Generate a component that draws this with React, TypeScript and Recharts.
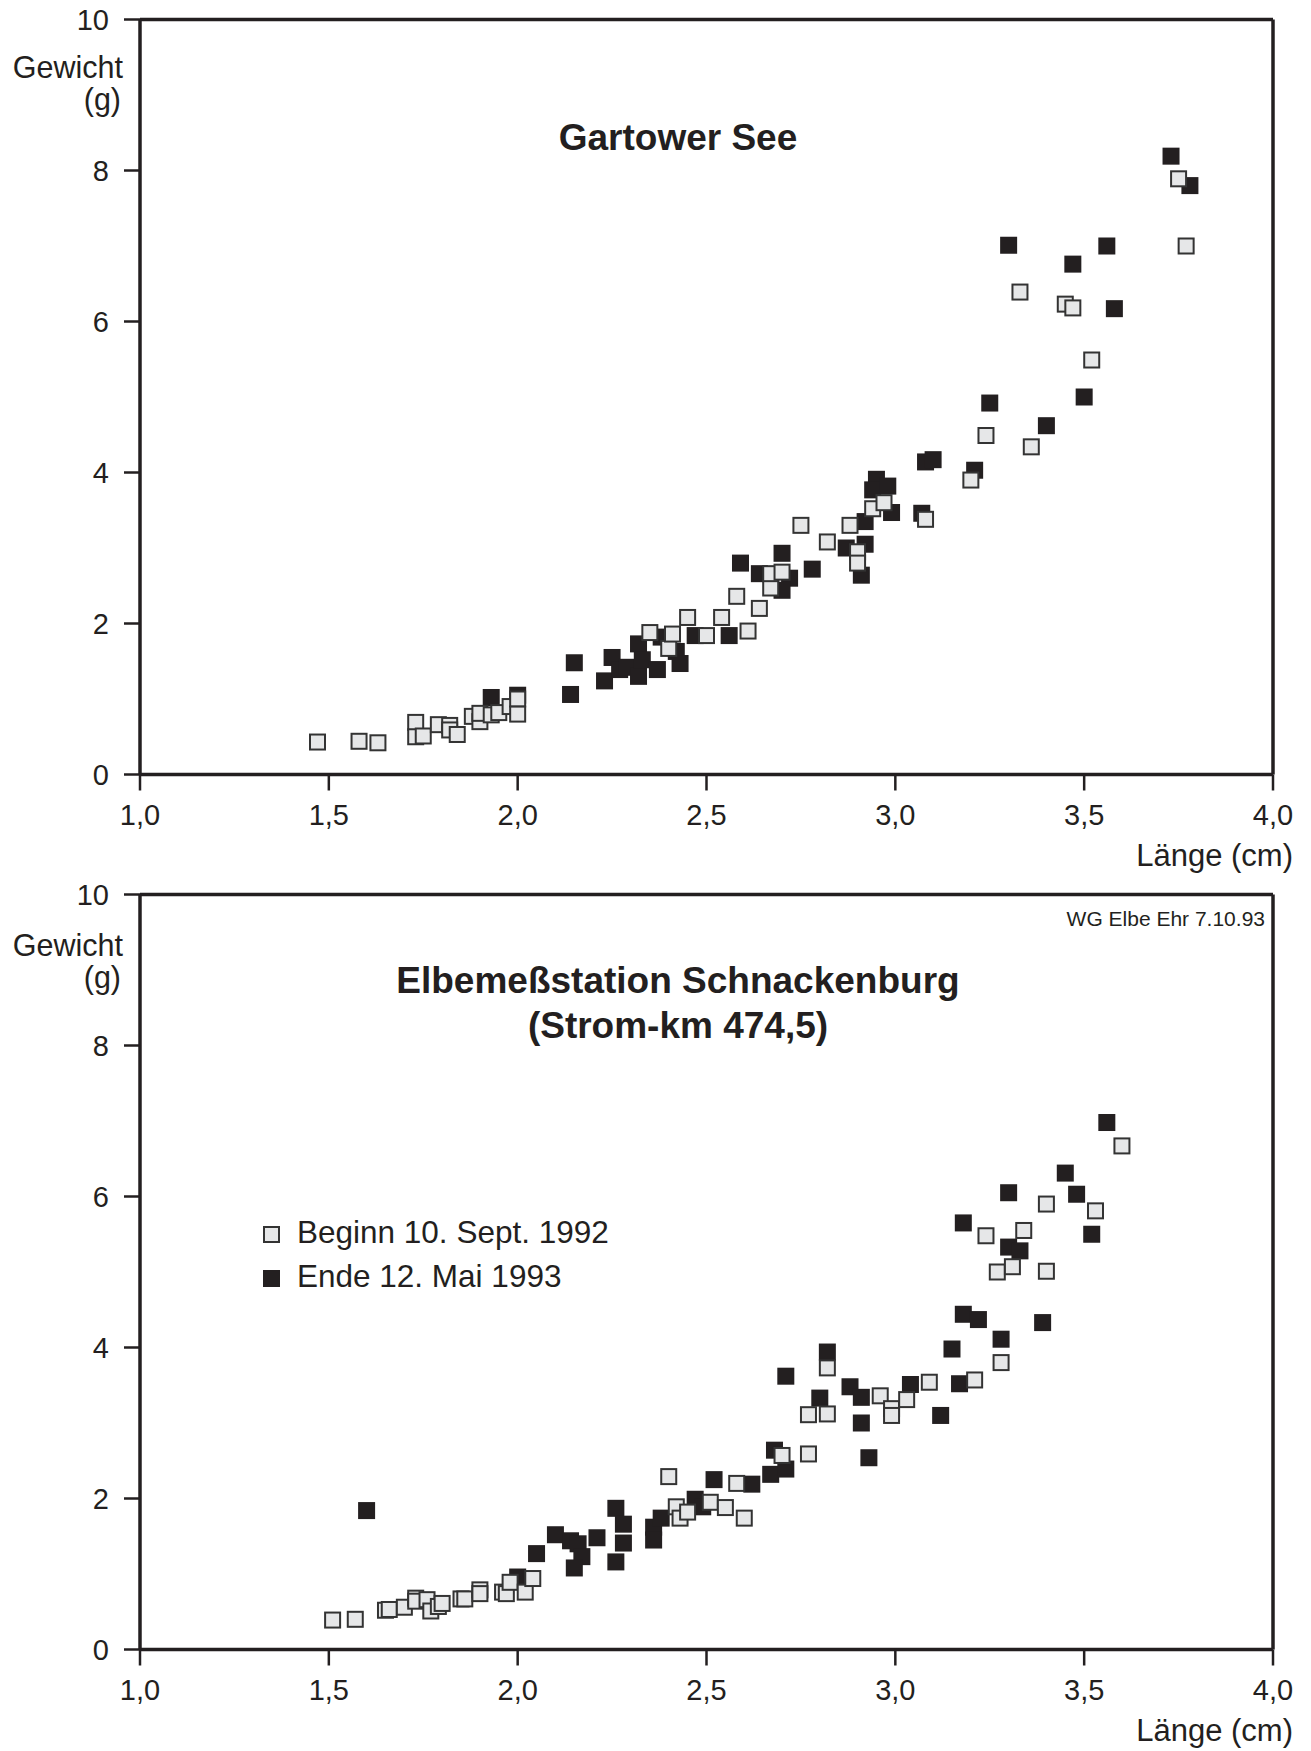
import {
  Customized,
  Label,
  ReferenceLine,
  Scatter,
  ScatterChart,
  XAxis,
  YAxis,
} from "recharts";

const INK = "#231f20";
const LIGHT = "#e6e7e8";
const FONT = '"Liberation Sans", Arial, Helvetica, sans-serif';

const laengeTicks = [1, 1.5, 2, 2.5, 3, 3.5, 4];
const gewichtTicks = [0, 2, 4, 6, 8, 10];

const seriesNames = ["Beginn 10. Sept. 1992", "Ende 12. Mai 1993"];

// [Länge (cm), Gewicht (g)]
const gartowerBeginn = [
  [1.47, 0.43], [1.58, 0.44], [1.63, 0.42], [1.73, 0.69], [1.73, 0.5],
  [1.75, 0.51], [1.79, 0.66], [1.82, 0.65], [1.82, 0.59], [1.84, 0.53],
  [1.88, 0.77], [1.9, 0.7], [1.9, 0.81], [1.93, 0.79], [1.95, 0.82],
  [1.98, 0.9], [2.0, 1.0], [2.0, 0.8], [2.35, 1.88], [2.4, 1.67],
  [2.41, 1.86], [2.45, 2.08], [2.5, 1.84], [2.54, 2.08], [2.61, 1.9],
  [2.58, 2.36], [2.64, 2.2], [2.67, 2.47], [2.67, 2.66], [2.7, 2.68],
  [2.75, 3.3], [2.82, 3.08], [2.88, 3.3], [2.9, 2.95], [2.9, 2.8],
  [2.94, 3.52], [2.97, 3.6], [3.08, 3.38], [3.2, 3.9], [3.24, 4.49],
  [3.33, 6.39], [3.36, 4.34], [3.45, 6.23], [3.47, 6.18], [3.52, 5.49],
  [3.75, 7.89], [3.77, 7.0],
];

const gartowerEnde = [
  [1.93, 1.02], [2.0, 1.05], [2.14, 1.06], [2.15, 1.48], [2.23, 1.24],
  [2.25, 1.55], [2.27, 1.39], [2.29, 1.42], [2.32, 1.73], [2.32, 1.3],
  [2.33, 1.52], [2.37, 1.39], [2.38, 1.82], [2.42, 1.63], [2.43, 1.47],
  [2.47, 1.84], [2.56, 1.84], [2.59, 2.8], [2.64, 2.66], [2.7, 2.93],
  [2.72, 2.6], [2.7, 2.44], [2.78, 2.72], [2.87, 3.0], [2.92, 3.05],
  [2.91, 2.64], [2.92, 3.35], [2.95, 3.91], [2.94, 3.77], [2.98, 3.82],
  [2.99, 3.47], [3.07, 3.46], [3.08, 4.14], [3.1, 4.17], [3.21, 4.03],
  [3.25, 4.92], [3.3, 7.01], [3.4, 4.62], [3.47, 6.76], [3.5, 5.0],
  [3.56, 7.0], [3.58, 6.17], [3.73, 8.19], [3.78, 7.8],
];

const schnackenburgBeginn = [
  [1.51, 0.39], [1.57, 0.4], [1.65, 0.52], [1.66, 0.53], [1.7, 0.56],
  [1.73, 0.68], [1.73, 0.64], [1.76, 0.66], [1.77, 0.51], [1.79, 0.57],
  [1.8, 0.61], [1.85, 0.67], [1.86, 0.67], [1.9, 0.79], [1.9, 0.74],
  [1.96, 0.76], [1.97, 0.74], [1.98, 0.89], [2.02, 0.76], [2.04, 0.94],
  [2.4, 2.29], [2.42, 1.89], [2.43, 1.74], [2.45, 1.82], [2.51, 1.95],
  [2.55, 1.88], [2.58, 2.2], [2.6, 1.74], [2.7, 2.57], [2.77, 2.59],
  [2.77, 3.11], [2.82, 3.12], [2.82, 3.73], [2.96, 3.36], [2.99, 3.19],
  [2.99, 3.1], [3.03, 3.31], [3.09, 3.54], [3.21, 3.57], [3.24, 5.48],
  [3.27, 5.0], [3.28, 3.8], [3.31, 5.07], [3.34, 5.55], [3.4, 5.9],
  [3.4, 5.01], [3.53, 5.81], [3.6, 6.67],
];

const schnackenburgEnde = [
  [1.6, 1.84], [2.0, 0.96], [2.05, 1.27], [2.1, 1.52], [2.14, 1.44],
  [2.16, 1.4], [2.17, 1.23], [2.15, 1.08], [2.21, 1.48], [2.26, 1.87],
  [2.28, 1.66], [2.28, 1.41], [2.26, 1.16], [2.36, 1.62], [2.36, 1.45],
  [2.38, 1.74], [2.47, 1.99], [2.49, 1.89], [2.52, 2.25], [2.62, 2.19],
  [2.67, 2.32], [2.68, 2.64], [2.71, 2.39], [2.71, 3.62], [2.8, 3.33],
  [2.82, 3.94], [2.88, 3.48], [2.91, 3.34], [2.91, 3.0], [2.93, 2.54],
  [3.04, 3.51], [3.12, 3.1], [3.15, 3.98], [3.17, 3.52], [3.18, 5.65],
  [3.18, 4.44], [3.22, 4.37], [3.28, 4.11], [3.3, 6.05], [3.3, 5.33],
  [3.33, 5.28], [3.39, 4.33], [3.45, 6.31], [3.48, 6.03], [3.52, 5.5],
  [3.56, 6.98],
];

const toPoints = (pairs: number[][]) =>
  pairs.map(([laenge, gewicht]) => ({ laenge, gewicht }));

const LightSquare = (props: any) => (
  <rect
    x={props.cx - 7.5}
    y={props.cy - 7.5}
    width={15}
    height={15}
    fill={LIGHT}
    stroke="#333"
    strokeWidth={2}
  />
);

const DarkSquare = (props: any) => (
  <rect x={props.cx - 8.5} y={props.cy - 8.5} width={17} height={17} fill={INK} />
);

const fmtLaenge = (v: number) => v.toFixed(1).replace(".", ",");

function Panel({
  beginn,
  ende,
  titleLines,
  titleY,
  note,
  legend,
  yLabelShift,
}: {
  beginn: number[][];
  ende: number[][];
  titleLines: string[];
  titleY: number;
  note?: string;
  legend?: boolean;
  yLabelShift: number;
}) {
  return (
    <ScatterChart
      width={1311}
      height={875}
      margin={{ top: 19.5, right: 38, bottom: 0, left: 0 }}
      style={{ fontFamily: FONT }}
    >
      <XAxis
        type="number"
        dataKey="laenge"
        domain={[1, 4]}
        ticks={laengeTicks}
        interval={0}
        allowDataOverflow
        tickFormatter={fmtLaenge}
        height={100.5}
        tickSize={16}
        tickMargin={14}
        axisLine={{ stroke: INK, strokeWidth: 3.5 }}
        tickLine={{ stroke: INK, strokeWidth: 2.5 }}
        tick={{ fill: INK, fontSize: 29, fontFamily: FONT }}
      >
        <Label
          content={({ viewBox }: any) => (
            <text
              x={viewBox.x + viewBox.width + 20}
              y={viewBox.y + 91.5}
              textAnchor="end"
              fill={INK}
              fontSize={31}
              fontFamily={FONT}
            >
              Länge (cm)
            </text>
          )}
        />
      </XAxis>
      <YAxis
        type="number"
        dataKey="gewicht"
        domain={[0, 10]}
        ticks={gewichtTicks}
        interval={0}
        allowDataOverflow
        width={140}
        tickSize={16}
        tickMargin={15}
        axisLine={{ stroke: INK, strokeWidth: 3.5 }}
        tickLine={{ stroke: INK, strokeWidth: 2.5 }}
        tick={{ fill: INK, fontSize: 29, fontFamily: FONT }}
      >
        <Label
          content={({ viewBox }: any) => (
            <g fill={INK} fontSize={30.5} fontFamily={FONT}>
              <text
                textAnchor="end"
                x={viewBox.x + viewBox.width - 17}
                y={viewBox.y + 58 + yLabelShift}
              >
                Gewicht
              </text>
              <text
                textAnchor="end"
                x={viewBox.x + viewBox.width - 19}
                y={viewBox.y + 90 + yLabelShift}
              >
                (g)
              </text>
            </g>
          )}
        />
      </YAxis>
      <ReferenceLine y={10} stroke={INK} strokeWidth={3.5} />
      <ReferenceLine x={4} stroke={INK} strokeWidth={3.5} />
      <Scatter
        name={seriesNames[1]}
        data={toPoints(ende)}
        shape={DarkSquare}
        isAnimationActive={false}
      />
      <Scatter
        name={seriesNames[0]}
        data={toPoints(beginn)}
        shape={LightSquare}
        isAnimationActive={false}
      />
      <Customized
        component={() => (
          <g fontFamily={FONT} fill={INK}>
            {titleLines.map((line, i) => (
              <text
                key={line}
                x={678}
                y={titleY + i * 45}
                textAnchor="middle"
                fontSize={37}
                fontWeight="bold"
              >
                {line}
              </text>
            ))}
            {note && (
              <text x={1265} y={51} textAnchor="end" fontSize={21}>
                {note}
              </text>
            )}
            {legend && (
              <g>
                <rect x={264} y={352} width={15} height={15} fill={LIGHT} stroke="#333" strokeWidth={2} />
                <text x={297} y={368} fontSize={31.5}>
                  {seriesNames[0]}
                </text>
                <rect x={263} y={395} width={17} height={17} fill={INK} />
                <text x={297} y={412} fontSize={31.5}>
                  {seriesNames[1]}
                </text>
              </g>
            )}
          </g>
        )}
      />
    </ScatterChart>
  );
}

export default function App() {
  return (
    <div
      style={{
        position: "absolute",
        left: 0,
        top: 0,
        width: 1311,
        height: 1751,
        background: "#fff",
      }}
    >
      <Panel
        beginn={gartowerBeginn}
        ende={gartowerEnde}
        titleLines={["Gartower See"]}
        titleY={150}
        yLabelShift={0}
      />
      <Panel
        beginn={schnackenburgBeginn}
        ende={schnackenburgEnde}
        titleLines={["Elbemeßstation Schnackenburg", "(Strom-km 474,5)"]}
        titleY={118}
        note="WG Elbe Ehr 7.10.93"
        legend
        yLabelShift={3}
      />
    </div>
  );
}
